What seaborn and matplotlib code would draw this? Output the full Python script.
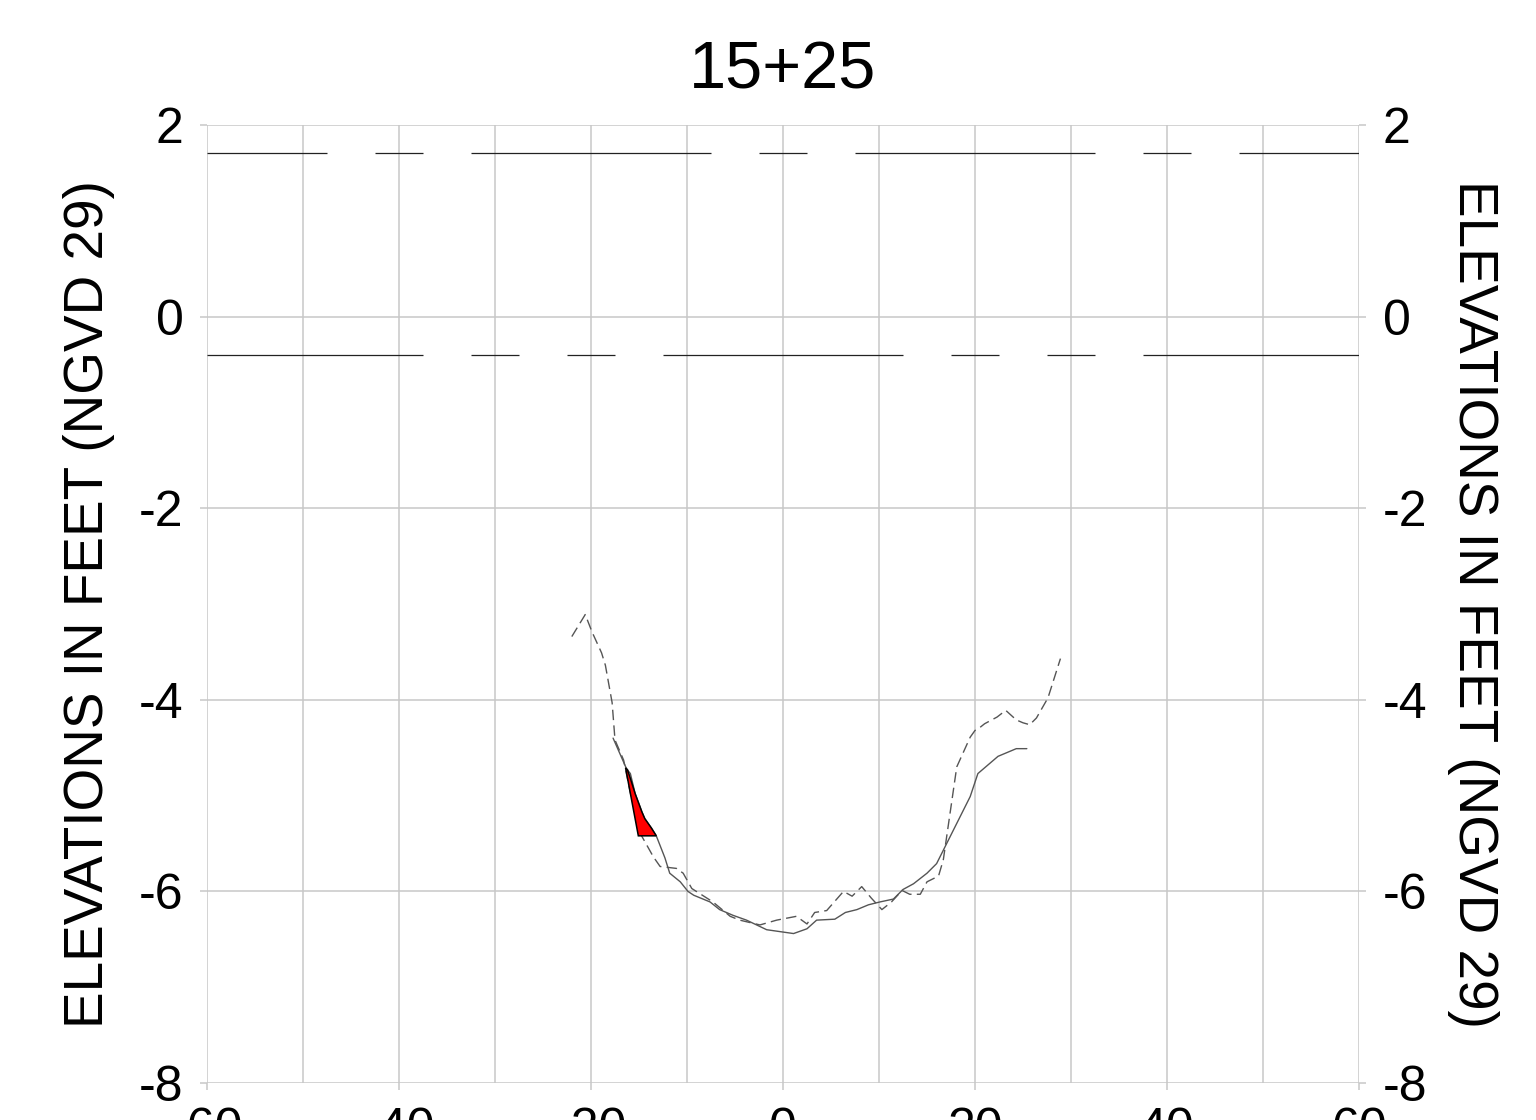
import matplotlib
matplotlib.use("Agg")
import numpy as np
import pandas as pd
import matplotlib.pyplot as plt
import seaborn as sns
from matplotlib.ticker import MultipleLocator

# survey profile (solid) - station offset vs elevation
post_x = [-17.7, -16.3, -15.9, -15.4, -14.7, -14.4, -13.7, -13.2, -12.3, -11.8, -10.7,
          -9.9, -9.3, -7.6, -6.6, -5.2, -3.8, -1.7, -0.3, 1.1, 2.5, 3.5, 5.4, 6.5, 7.7,
          8.9, 10.1, 11.5, 12.5, 13.6, 15.0, 16.0, 16.7, 17.4, 19.5, 20.3, 22.4, 24.3, 25.4]
post_y = [-4.40, -4.72, -4.77, -4.98, -5.17, -5.24, -5.34, -5.42, -5.65, -5.81, -5.90,
          -6.00, -6.04, -6.11, -6.19, -6.25, -6.30, -6.40, -6.42, -6.44, -6.39, -6.30, -6.29,
          -6.22, -6.19, -6.14, -6.11, -6.08, -5.98, -5.92, -5.81, -5.71, -5.57, -5.43, -5.01,
          -4.77, -4.59, -4.51, -4.51]

# earlier survey profile (dashed)
pre_x = [-22.0, -20.6, -19.9, -18.9, -18.5, -17.8, -17.5, -16.6, -15.9, -14.9, -13.5,
         -12.8, -11.1, -10.4, -9.5, -7.3, -5.5, -4.5, -2.4, -0.66, 1.4, 2.5, 3.3, 4.55,
         6.3, 7.2, 8.2, 9.2, 10.3, 11.3, 12.4, 13.2, 14.3, 15.0, 16.2, 16.7, 18.1, 19.5,
         20.0, 20.5, 21.0, 22.3, 23.2, 24.3, 25.0, 25.7, 26.4, 27.6, 28.9]
pre_y = [-3.34, -3.11, -3.29, -3.51, -3.64, -4.03, -4.42, -4.63, -4.97, -5.39, -5.64,
         -5.74, -5.76, -5.81, -5.97, -6.11, -6.26, -6.30, -6.35, -6.30, -6.26, -6.34, -6.22,
         -6.20, -6.00, -6.05, -5.95, -6.07, -6.19, -6.11, -5.99, -6.03, -6.03, -5.90, -5.84,
         -5.67, -4.70, -4.39, -4.32, -4.29, -4.25, -4.18, -4.11, -4.21, -4.24, -4.26, -4.19,
         -3.98, -3.57]

# fill area (red)
fill_x = [-16.4, -16.2, -15.9, -15.4, -14.7, -14.4, -13.7, -13.2, -15.07]
fill_y = [-4.71, -4.73, -4.82, -4.98, -5.17, -5.24, -5.34, -5.42, -5.42]

# water levels
mhw = 1.71
mlw = -0.40
x_range = [-60, 60]

ylabel = "ELEVATIONS IN FEET (NGVD 29)"

sns.set_theme(style="whitegrid")
plt.rcParams['font.family'] = ['Liberation Sans', 'DejaVu Sans']
plt.rcParams['lines.scale_dashes'] = False
plt.rcParams['axes.unicode_minus'] = False
plt.rcParams['text.color'] = 'black'
plt.rcParams['axes.labelcolor'] = 'black'
plt.rcParams['xtick.labelcolor'] = 'black'
plt.rcParams['ytick.labelcolor'] = 'black'

fig, ax = plt.subplots(figsize=(15.36, 11.2), dpi=100)
fig.subplots_adjust(left=207/1536, right=1359/1536, top=1-125/1120, bottom=1-1083/1120)

gc = "#c8c8c8"

# water level lines with uneven dash patterns (lengths in points)
ax.plot(x_range, [mhw, mhw], color="#222222", lw=0.9,
        linestyle=(86.4, (172.8, 34.56, 34.56, 34.56)))
ax.plot(x_range, [mlw, mlw], color="#222222", lw=0.9,
        linestyle=(17.28, (172.8, 34.56, 34.56, 34.56, 34.56, 34.56)))

sns.lineplot(x=pre_x, y=pre_y, sort=False, estimator=None, ax=ax,
             color="#555555", lw=1.0, linestyle=(0, (7.5, 3.8)))
sns.lineplot(x=post_x, y=post_y, sort=False, estimator=None, ax=ax,
             color="#555555", lw=1.0)
ax.fill(fill_x, fill_y, facecolor="#ff0000", edgecolor="black", lw=1.1, zorder=3)

ax.set_xlim(-60, 60)
ax.set_ylim(-8, 2)
ax.xaxis.set_major_locator(MultipleLocator(20))
ax.xaxis.set_minor_locator(MultipleLocator(10))
ax.yaxis.set_major_locator(MultipleLocator(2))
ax.grid(which="both", color=gc, lw=1.1)
ax.set_axisbelow(True)
for s in ax.spines.values():
    s.set_visible(False)
ax.tick_params(which="major", length=5, width=1.1, color=gc, labelsize=36, pad=12,
               left=True, bottom=True)
ax.tick_params(which="minor", length=0)

ax.set_title("15+25", fontsize=48, pad=26)
ax.set_ylabel(ylabel, fontsize=39.5, labelpad=17)
ax.set_xlabel("")

ax2 = ax.twinx()
ax2.set_ylim(-8, 2)
ax2.yaxis.set_major_locator(MultipleLocator(2))
ax2.grid(False)
for s in ax2.spines.values():
    s.set_visible(False)
ax2.tick_params(length=5, width=1.1, color=gc, labelsize=36, pad=12, right=True)
ax2.set_ylabel(ylabel, fontsize=39.5, rotation=270, labelpad=52)

fig.savefig("out.png", dpi=100)
